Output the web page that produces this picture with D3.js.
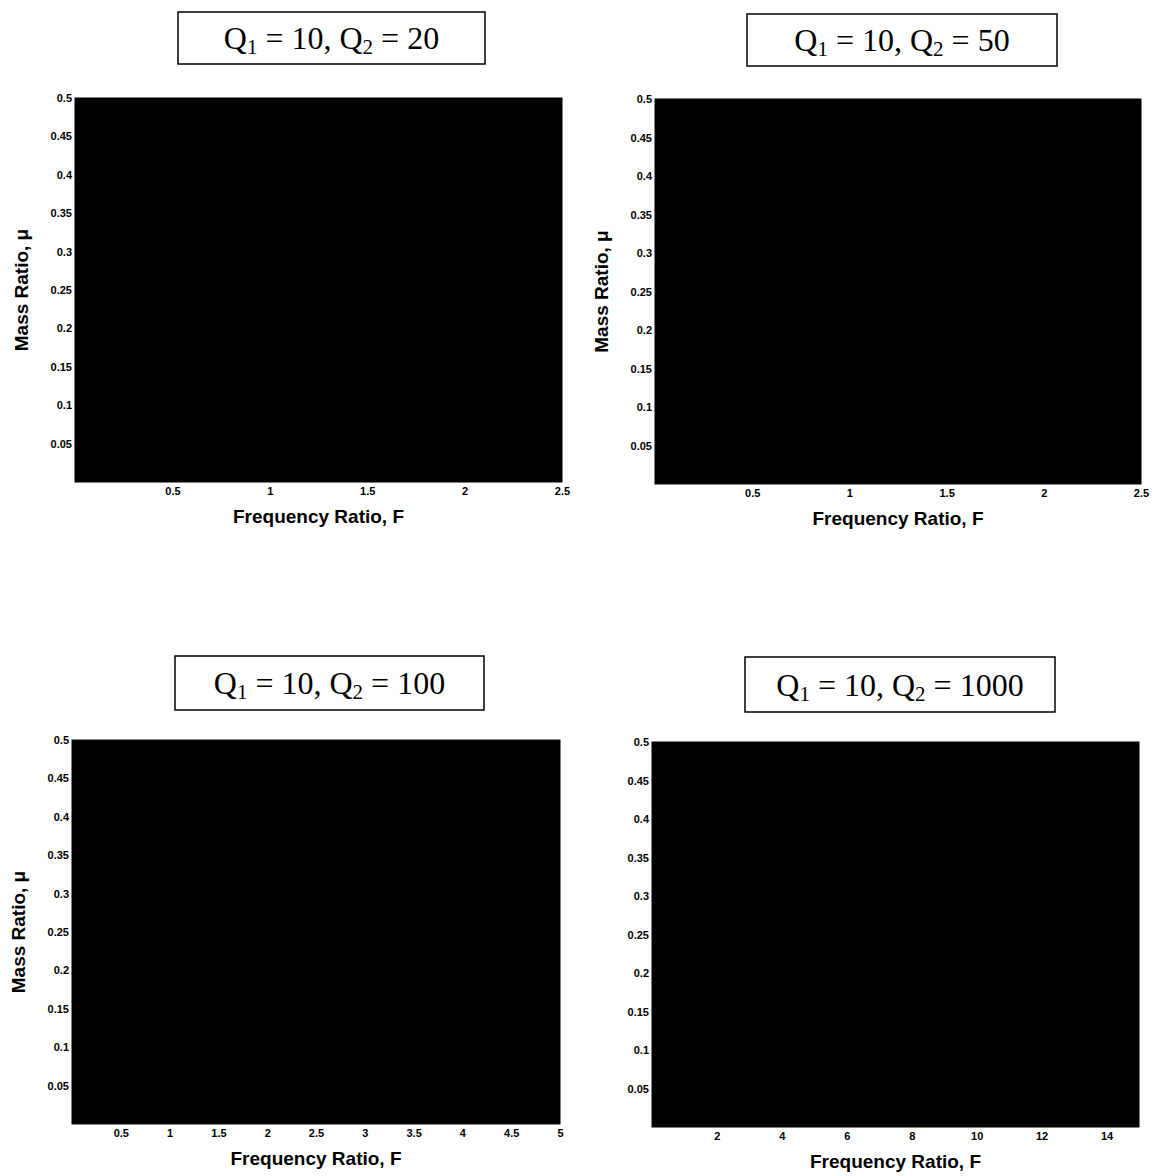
<!DOCTYPE html>
<html>
<head>
<meta charset="utf-8">
<script src="https://cdn.jsdelivr.net/npm/d3@7"></script>
<style>
  html, body { margin: 0; padding: 0; background: #fff; }
  svg { display: block; }
</style>
</head>
<body>
<svg id="chart" width="1159" height="1176"></svg>
<script>
// ---------- data ----------
const q1Values = [10, 10, 10, 10];
const q2Values = [20, 50, 100, 1000];
const fMaxValues = [2.5, 2.5, 5, 15];
const muMaxValues = [0.5, 0.5, 0.5, 0.5];
const xTickValues = [
  [0.5, 1, 1.5, 2, 2.5],
  [0.5, 1, 1.5, 2, 2.5],
  [0.5, 1, 1.5, 2, 2.5, 3, 3.5, 4, 4.5, 5],
  [2, 4, 6, 8, 10, 12, 14]
];
const yTickValues = [0.05, 0.1, 0.15, 0.2, 0.25, 0.3, 0.35, 0.4, 0.45, 0.5];
// filled (black) region per panel: [F from, F to, mu from, mu to]
const filledRegions = [
  [0, 2.5, 0, 0.5],
  [0, 2.5, 0, 0.5],
  [0, 5, 0, 0.5],
  [0, 15, 0, 0.5]
];
const xLabel = "Frequency Ratio, F";
const yLabel = "Mass Ratio, \u03bc";
const showYLabel = [true, true, true, false];

// ---------- layout ----------
const panels = [
  { left: 75,  right: 562,  top: 98,  bottom: 482,  box: [178, 12, 307, 52] },
  { left: 655, right: 1141, top: 99,  bottom: 484,  box: [747, 14, 310, 52] },
  { left: 72,  right: 560,  top: 740, bottom: 1124, box: [175, 656, 309, 54] },
  { left: 652, right: 1139, top: 742, bottom: 1127, box: [745, 657, 310, 55] }
];

const svg = d3.select("#chart");

panels.forEach((p, i) => {
  const g = svg.append("g");
  const x = d3.scaleLinear().domain([0, fMaxValues[i]]).range([p.left, p.right]);
  const y = d3.scaleLinear().domain([0, muMaxValues[i]]).range([p.bottom, p.top]);

  // title box
  const [bx, by, bw, bh] = p.box;
  g.append("rect").attr("x", bx).attr("y", by).attr("width", bw).attr("height", bh)
    .attr("fill", "#fff").attr("stroke", "#000").attr("stroke-width", 1.5);
  const t = g.append("text")
    .attr("x", bx + bw / 2).attr("y", by + bh / 2 + 11)
    .attr("text-anchor", "middle")
    .attr("font-family", "'Liberation Serif', 'Times New Roman', serif")
    .attr("font-size", 32).attr("fill", "#000");
  t.append("tspan").text("Q");
  t.append("tspan").attr("font-size", 21).attr("dy", 5).text("1");
  t.append("tspan").attr("dy", -5).text(" = " + q1Values[i] + ", Q");
  t.append("tspan").attr("font-size", 21).attr("dy", 5).text("2");
  t.append("tspan").attr("dy", -5).text(" = " + q2Values[i]);

  // filled region
  const r = filledRegions[i];
  g.append("rect")
    .attr("x", x(r[0])).attr("y", y(r[3]))
    .attr("width", x(r[1]) - x(r[0])).attr("height", y(r[2]) - y(r[3]))
    .attr("fill", "#000");

  // frame
  g.append("rect").attr("x", p.left).attr("y", p.top)
    .attr("width", p.right - p.left).attr("height", p.bottom - p.top)
    .attr("fill", "none").attr("stroke", "#000").attr("stroke-width", 1);

  // axes
  const xAxis = d3.axisBottom(x).tickValues(xTickValues[i]).tickSize(0).tickPadding(5)
    .tickFormat(d3.format("~g"));
  const gx = g.append("g").attr("transform", `translate(0,${p.bottom})`).call(xAxis);
  const yAxis = d3.axisLeft(y).tickValues(yTickValues).tickSize(0).tickPadding(3)
    .tickFormat(d3.format("~g"));
  const gy = g.append("g").attr("transform", `translate(${p.left},0)`).call(yAxis);
  [gx, gy].forEach(a => {
    a.select(".domain").remove();
    a.selectAll("text")
      .attr("font-family", "'Liberation Sans', Arial, sans-serif")
      .attr("font-weight", "bold")
      .attr("font-size", 11).attr("fill", "#000");
  });

  // axis labels
  g.append("text")
    .attr("x", (p.left + p.right) / 2).attr("y", p.bottom + 41)
    .attr("text-anchor", "middle")
    .attr("font-family", "'Liberation Sans', Arial, sans-serif")
    .attr("font-weight", "bold")
    .attr("font-size", 19).attr("fill", "#000").text(xLabel);
  if (showYLabel[i]) {
    g.append("text")
      .attr("transform", `translate(${p.left - 47},${(p.top + p.bottom) / 2}) rotate(-90)`)
      .attr("text-anchor", "middle")
      .attr("font-family", "'Liberation Sans', Arial, sans-serif")
      .attr("font-weight", "bold")
      .attr("font-size", 19).attr("fill", "#000").text(yLabel);
  }
});
</script>
</body>
</html>
